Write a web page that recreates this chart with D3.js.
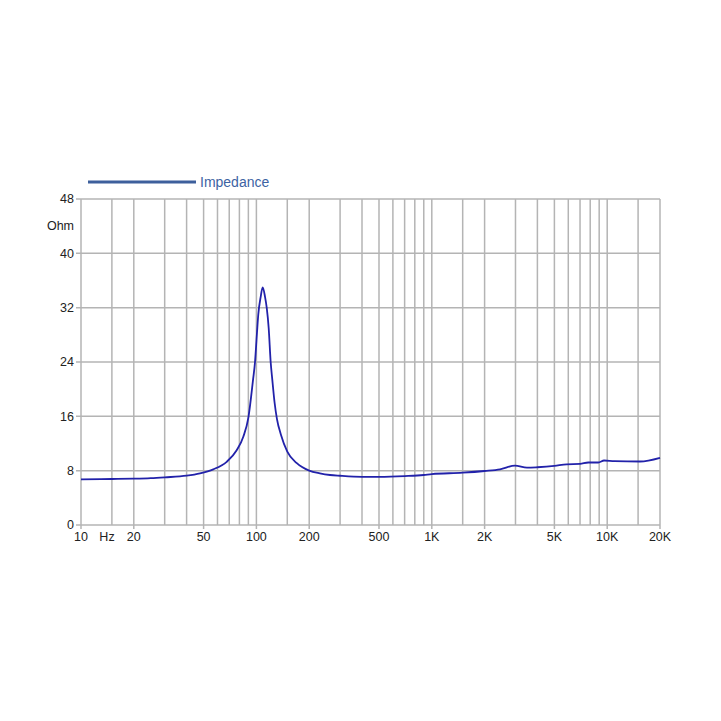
<!DOCTYPE html>
<html><head><meta charset="utf-8">
<script src="https://cdn.jsdelivr.net/npm/d3@7"></script>
<style>body{margin:0;background:#fff}svg{display:block}text{font-family:"Liberation Sans",Arial,sans-serif}</style>
</head><body>
<script>
const freqs = [10,15,20,25,30,40,47.7,56.8,67.7,77.2,84.2,90,95.7,98.2,100.7,102.5,105.8,108.6,112,114.5,117.5,120.6,123.2,127,131,138,150,170,200,230,263,300,400,500,700,900,1000,1500,2000,2450,2980,3490,4000,5000,5870,7000,7800,8900,9600,11000,15400,20000];
const impedance = [6.72,6.77,6.82,6.9,7.02,7.26,7.6,8.2,9.3,11.0,13.0,15.8,21.4,24,28.2,31,33.6,35,33.6,32,29,24,21.4,18,15.6,13.3,10.8,9.1,8.0,7.6,7.36,7.25,7.1,7.1,7.2,7.36,7.5,7.7,7.95,8.2,8.74,8.44,8.5,8.7,8.94,9.0,9.2,9.2,9.5,9.4,9.35,9.9];
const yTicks = [0,8,16,24,32,40,48];
const xGrid = [10,15,20,30,40,50,60,70,80,90,100,150,200,300,400,500,600,700,800,900,1000,1500,2000,3000,4000,5000,6000,7000,8000,9000,10000,15000,20000];
const xLabelVals = [10,20,50,100,200,500,1000,2000,5000,10000,20000];
const xLabelText = ["10","20","50","100","200","500","1K","2K","5K","10K","20K"];
const seriesName = "Impedance";

const W=721,H=721;
const svg=d3.select("body").append("svg").attr("width",W).attr("height",H);
const x=d3.scaleLog().domain([10,20000]).range([81,660]);
const y=d3.scaleLinear().domain([0,48]).range([525,199]);
const grid="#b4b4b4";

svg.append("g").selectAll("line").data(xGrid).join("line")
  .attr("x1",d=>x(d)).attr("x2",d=>x(d)).attr("y1",y(48)).attr("y2",y(0))
  .attr("stroke",grid).attr("stroke-width",1.5);
svg.append("g").selectAll("line").data(yTicks).join("line")
  .attr("x1",x(10)-5).attr("x2",x(20000)).attr("y1",d=>y(d)).attr("y2",d=>y(d))
  .attr("stroke",grid).attr("stroke-width",1.5);
svg.append("g").selectAll("line").data(xLabelVals).join("line")
  .attr("x1",d=>x(d)).attr("x2",d=>x(d)).attr("y1",y(0)).attr("y2",y(0)+4)
  .attr("stroke",grid).attr("stroke-width",1.5);

svg.append("g").selectAll("text").data(yTicks).join("text")
  .attr("x",74).attr("y",d=>y(d)).attr("dy","0.35em").attr("text-anchor","end")
  .attr("font-size",12.5).attr("fill","#222").text(d=>d);
svg.append("text").attr("x",74).attr("y",226).attr("dy","0.35em").attr("text-anchor","end")
  .attr("font-size",12.5).attr("fill","#222").text("Ohm");

svg.append("g").selectAll("text").data(xLabelVals).join("text")
  .attr("x",d=>x(d)).attr("y",537).attr("dy","0.35em").attr("text-anchor","middle")
  .attr("font-size",12.5).attr("fill","#222").text((d,i)=>xLabelText[i]);
svg.append("text").attr("x",107).attr("y",537).attr("dy","0.35em").attr("text-anchor","middle")
  .attr("font-size",12.5).attr("fill","#222").text("Hz");

const line=d3.line().x(d=>x(d[0])).y(d=>y(d[1])).curve(d3.curveMonotoneX);
svg.append("path").datum(freqs.map((f,i)=>[f,impedance[i]]))
  .attr("d",line).attr("fill","none").attr("stroke","#2222aa").attr("stroke-width",1.8);

svg.append("line").attr("x1",88).attr("x2",196).attr("y1",182).attr("y2",182)
  .attr("stroke","#3d5f9c").attr("stroke-width",3);
svg.append("text").attr("x",200).attr("y",182).attr("dy","0.35em")
  .attr("font-size",14).attr("fill","#3d63a3").text(seriesName);
</script>
</body></html>
